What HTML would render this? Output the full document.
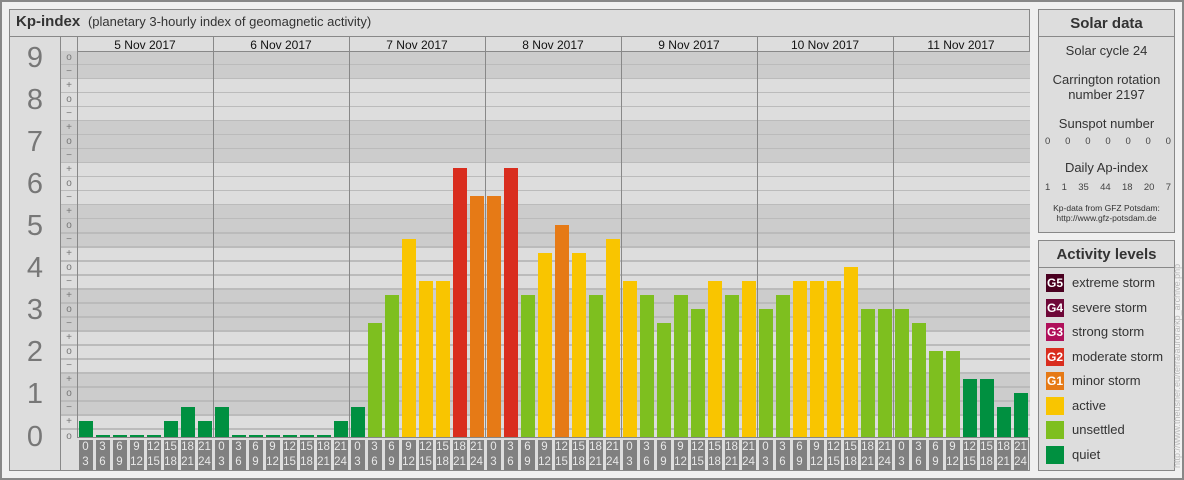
<!DOCTYPE html>
<html><head><meta charset="utf-8"><style>
body{margin:0;width:1184px;height:480px;background:#fff;position:relative;overflow:hidden;font-family:"Liberation Sans",sans-serif}
div{position:absolute;box-sizing:border-box}
.t{white-space:nowrap}
</style></head><body>
<div style="left:0;top:0;width:1184px;height:480px;border:2px solid #888;background:#f0f0f0"></div>
<div style="left:9px;top:9px;width:1021px;height:462px;border:1px solid #888;background:#ddd"></div>
<div class="t" style="left:16px;top:13px;font-size:15px;font-weight:bold;color:#333">Kp-index <span style="font-weight:normal;font-size:13px;color:#333">&nbsp;(planetary 3-hourly index of geomagnetic activity)</span></div>
<div style="left:9px;top:36px;width:1021px;height:1px;background:#888"></div>
<div id="chart"></div>
<div style="left:1038px;top:9px;width:137px;height:224px;border:1px solid #888;background:#ddd"></div>
<div style="left:1038px;top:36px;width:137px;height:1px;background:#888"></div>
<div class="t" style="left:1038px;width:137px;top:15px;text-align:center;font-size:15px;font-weight:bold;color:#333">Solar data</div>
<div style="left:1038px;width:137px;top:43px;text-align:center;font-size:13px;color:#333;line-height:15px">Solar cycle 24<br><div style="position:static;height:14px"></div>Carrington rotation<br>number 2197<br><div style="position:static;height:14px"></div>Sunspot number</div>
<div class="t" style="left:1045px;top:136px;width:126px;font-size:9.5px;color:#444;display:flex;justify-content:space-between"><span>0</span><span>0</span><span>0</span><span>0</span><span>0</span><span>0</span><span>0</span></div>
<div class="t" style="left:1038px;width:137px;top:160px;text-align:center;font-size:13px;color:#333">Daily Ap-index</div>
<div class="t" style="left:1045px;top:182px;width:126px;font-size:9.5px;color:#444;display:flex;justify-content:space-between"><span>1</span><span>1</span><span>35</span><span>44</span><span>18</span><span>20</span><span>7</span></div>
<div class="t" style="left:1038px;width:137px;top:203px;text-align:center;font-size:8.5px;color:#333;line-height:10px">Kp-data from GFZ Potsdam:<br>http://www.gfz-potsdam.de</div>
<div style="left:1038px;top:240px;width:137px;height:231px;border:1px solid #888;background:#ddd"></div>
<div style="left:1038px;top:267px;width:137px;height:1px;background:#888"></div>
<div class="t" style="left:1038px;width:137px;top:246px;text-align:center;font-size:15px;font-weight:bold;color:#333">Activity levels</div>
<div id="leg"></div>
<div class="t" style="left:1172px;top:468px;transform:rotate(-90deg);transform-origin:0 0;font-size:9px;color:#bbb">http://www.theusner.eu/terra/aurora/kp_archive.php</div>
<script>
var c='',Y=function(l){return 436.5-42.1*l};
for(var n=0;n<=9;n++){var top=n==9?37:Y(n+0.5),bot=n==0?471:Y(n-0.5);
c+='<div style="left:10px;top:'+top+'px;width:50px;height:'+(bot-top)+'px;background:'+(n%2?'#ccc':'#ddd')+'"></div>';
c+='<div class="t" style="left:10px;width:50px;text-align:center;top:'+(Y(n)-16)+'px;font-size:29px;color:#777">'+n+'</div>';
var ptop=n==9?51:Y(n+0.5),pbot=n==0?437:Y(n-0.5);
c+='<div style="left:61px;top:'+ptop+'px;width:969px;height:'+(pbot-ptop)+'px;background:'+(n%2?'#ccc':'#ddd')+'"></div>';}
for(var k=-1;k<=27;k++){var l=k/3;if(l<0||l>9)continue;var s=['o','+','−'][((k%3)+3)%3];
c+='<div class="t" style="left:61px;width:16px;text-align:center;top:'+(Y(l)-6)+'px;font-size:10px;line-height:12px;color:#777">'+s+'</div>';}
for(var k=0;k<27;k++){var y=Y(k/3+1/6);if(y<51)continue;c+='<div style="left:61px;top:'+(y-1)+'px;width:969px;height:1.5px;background:#bbb"></div>';}
c+='<div style="left:60px;top:37px;width:1px;height:434px;background:#888"></div>';
c+='<div style="left:77px;top:37px;width:1px;height:400px;background:#888"></div>';
var days=['5','6','7','8','9','10','11'];
var d=[[1,0,0,0,0,1,2,1],[2,0,0,0,0,0,0,1],[2,8,10,14,11,11,19,17],[17,19,10,13,15,13,10,14],[11,10,8,10,9,11,10,11],[9,10,11,11,11,12,9,9],[9,8,6,6,4,4,2,3]];
function col(v){return v>=18?'#d92d1e':v>=15?'#e67a16':v>=11?'#f9c500':v>=5?'#7ebf1f':'#009040'}
var hr=['0','3','6','9','12','15','18','21','24'];
for(var i=0;i<7;i++){var x0=77+136*i;
if(i>0)c+='<div style="left:'+x0+'px;top:37px;width:1px;height:400px;background:#888"></div>';
c+='<div class="t" style="left:'+x0+'px;width:136px;text-align:center;top:38px;font-size:12px;color:#111">'+days[i]+' Nov 2017</div>';
for(var j=0;j<8;j++){var x=x0+17*j+1.5,v=d[i][j],h=v*14.03+2;
c+='<div style="left:'+x+'px;top:'+(437-h)+'px;width:14px;height:'+h+'px;background:'+col(v)+'"></div>';
c+='<div class="t" style="left:'+x+'px;top:440px;width:14px;height:30px;background:#808080;color:#e8e8e8;font-size:11.5px;text-align:center;line-height:14.5px">'+hr[j]+'<br>'+hr[j+1]+'</div>';}}
c+='<div style="left:77px;top:51px;width:953px;height:1px;background:#888"></div>';
c+='<div style="left:77px;top:437px;width:953px;height:1px;background:#888"></div>';
document.getElementById('chart').innerHTML=c;
var L=[['#4a0020','G5','extreme storm'],['#6e0838','G4','severe storm'],['#b0105a','G3','strong storm'],['#d92d1e','G2','moderate storm'],['#e67a16','G1','minor storm'],['#f9c500','','active'],['#7ebf1f','','unsettled'],['#009040','','quiet']],g='';
for(var i=0;i<8;i++){var y=274+24.5*i;
g+='<div class="t" style="left:1046px;top:'+y+'px;width:18px;height:18px;background:'+L[i][0]+';color:#fff;font-size:12px;font-weight:bold;text-align:center;line-height:18px">'+L[i][1]+'</div>';
g+='<div class="t" style="left:1072px;top:'+(y+1)+'px;font-size:13px;color:#333">'+L[i][2]+'</div>';}
document.getElementById('leg').innerHTML=g;
</script>
</body></html>
